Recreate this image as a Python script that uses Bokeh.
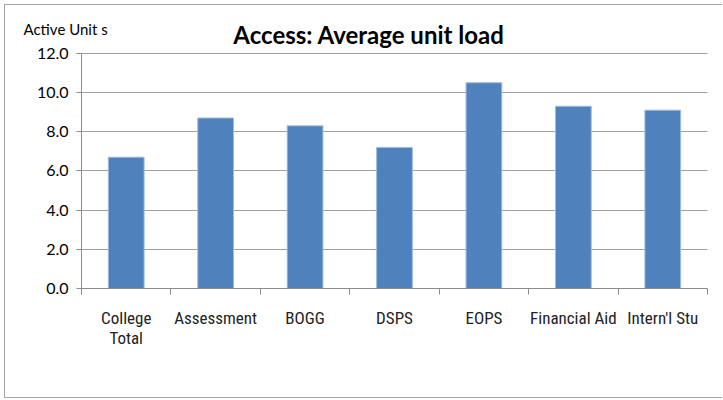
from bokeh.plotting import figure
from bokeh.models import FixedTicker, Label, NumeralTickFormatter
from bokeh.embed import file_html
from bokeh.resources import INLINE
import numpy as np

categories = ["College\nTotal", "Assessment", "BOGG", "DSPS", "EOPS", "Financial Aid", "Intern'l Stu"]
values = [6.7, 8.7, 8.3, 7.2, 10.5, 9.3, 9.1]
y_ticks = [0, 2, 4, 6, 8, 10, 12]
title_text = "Access: Average unit load"
y_title = "Active Unit s"

GRID = "#a0a0a0"
AXIS = "#8c8c8c"
n = len(categories)
xs = np.arange(n) + 0.5

# the frame covers the whole figure; both axes are pinned at the data origin
p = figure(width=718, height=394, output_backend="svg", toolbar_location=None,
           x_range=(-0.8498, 7.179), y_range=(-5.663, 14.44),
           min_border_left=0, min_border_right=0, min_border_top=0, min_border_bottom=0,
           styles={"margin-left": "4px", "margin-top": "4px",
                   "border-left": "1px solid #a6a6a6", "border-top": "1px solid #a6a6a6",
                   "border-bottom": "1px solid #a6a6a6"})
p.outline_line_color = None

# grid lines limited to the category span
p.xgrid.grid_line_color = None
p.ygrid.ticker = FixedTicker(ticks=y_ticks)
p.ygrid.grid_line_color = GRID
p.ygrid.grid_line_width = 1
try:
    p.ygrid.cross_bounds = (0, n)
except Exception:
    p.ygrid.grid_line_color = None
    p.segment(x0=[0] * len(y_ticks), x1=[n] * len(y_ticks), y0=y_ticks, y1=y_ticks,
              line_color=GRID, line_width=1)

p.vbar(x=xs, top=values, width=0.4, fill_color="#4F81BD", line_color="#A2BCDD", line_width=1)

yax = p.yaxis[0]
yax.fixed_location = 0
yax.bounds = (0, 12)
yax.ticker = FixedTicker(ticks=y_ticks)
yax.formatter = NumeralTickFormatter(format="0.0")
yax.axis_line_color = AXIS
yax.major_tick_line_color = AXIS
yax.major_tick_out = 5
yax.major_tick_in = 0
yax.minor_tick_line_color = None
yax.major_label_text_font = "Lato"
yax.major_label_text_font_size = "16px"
yax.major_label_text_color = "black"
yax.major_label_standoff = 8

xax = p.xaxis[0]
xax.fixed_location = 0
xax.bounds = (0, n)
xax.ticker = FixedTicker(ticks=list(xs), minor_ticks=list(range(n + 1)))
xax.major_label_overrides = {float(x): c for x, c in zip(xs, categories)}
xax.axis_line_color = AXIS
xax.major_tick_line_color = None
xax.major_tick_out = 0
xax.major_tick_in = 0
xax.minor_tick_line_color = AXIS
xax.minor_tick_out = 6
xax.minor_tick_in = 0
xax.major_label_text_font = "Roboto Condensed"
xax.major_label_text_font_size = "17px"
xax.major_label_text_line_height = 1.0
xax.major_label_text_color = "#222222"
xax.major_label_standoff = 13

# texts above the plot area (screen units from the frame's lower-left corner)
p.add_layout(Label(x=363.5, y=365, x_units="screen", y_units="screen", text=title_text,
                   text_font="Lato", text_font_style="bold", text_font_size="24px",
                   text_align="center", text_baseline="alphabetic", text_color="black"))
p.add_layout(Label(x=18, y=371, x_units="screen", y_units="screen", text=y_title,
                   text_font="Lato", text_font_size="15px",
                   text_align="left", text_baseline="alphabetic", text_color="black"))

open("out.html", "w").write(file_html(p, INLINE))
